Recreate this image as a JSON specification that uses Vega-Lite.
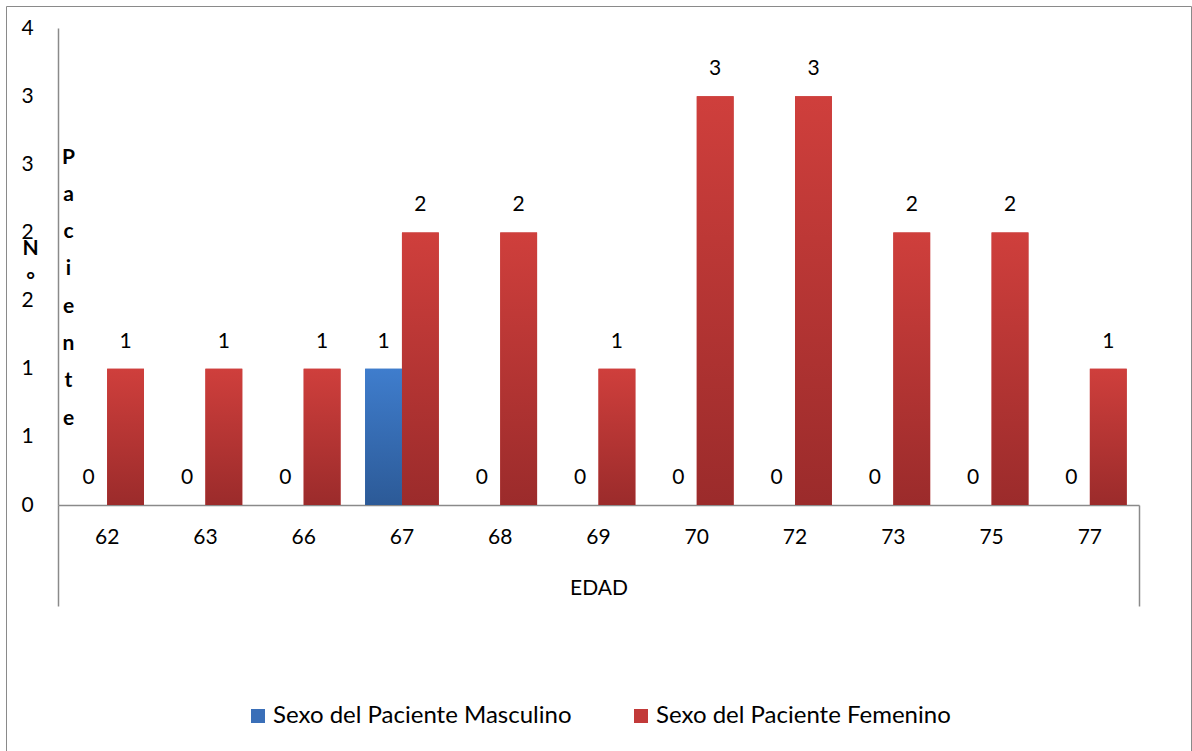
{
  "$schema": "https://vega.github.io/schema/vega-lite/v6.json",
  "autosize": {"type": "none"},
  "padding": {"left": 6, "top": 6, "right": 1, "bottom": 0},
  "width": 1185,
  "height": 745,
  "background": "#ffffff",
  "config": {
    "font": "Lato",
    "view": {"stroke": "#8a8a8a", "strokeWidth": 1},
    "axis": {
      "domainColor": "#8a8a8a",
      "domainWidth": 1.5,
      "grid": false,
      "ticks": false,
      "tickSize": 0,
      "labelFont": "Lato",
      "labelFontSize": 21,
      "labelColor": "#000000",
      "titleFont": "Lato",
      "titleFontSize": 21,
      "titleColor": "#000000",
      "labelOverlap": false
    },
    "legend": {
      "orient": "none",
      "legendX": 240,
      "legendY": 698,
      "direction": "horizontal",
      "padding": 0,
      "symbolType": "square",
      "symbolSize": 196,
      "symbolStrokeWidth": 0,
      "labelFont": "Lato",
      "labelFontSize": 24,
      "labelColor": "#000000",
      "labelLimit": 0,
      "labelOffset": 3,
      "columnPadding": 57
    }
  },
  "data": {
    "values": [
      {"edad": 62, "sexo": "Sexo del Paciente Masculino", "pacientes": 0},
      {"edad": 62, "sexo": "Sexo del Paciente Femenino", "pacientes": 1},
      {"edad": 63, "sexo": "Sexo del Paciente Masculino", "pacientes": 0},
      {"edad": 63, "sexo": "Sexo del Paciente Femenino", "pacientes": 1},
      {"edad": 66, "sexo": "Sexo del Paciente Masculino", "pacientes": 0},
      {"edad": 66, "sexo": "Sexo del Paciente Femenino", "pacientes": 1},
      {"edad": 67, "sexo": "Sexo del Paciente Masculino", "pacientes": 1},
      {"edad": 67, "sexo": "Sexo del Paciente Femenino", "pacientes": 2},
      {"edad": 68, "sexo": "Sexo del Paciente Masculino", "pacientes": 0},
      {"edad": 68, "sexo": "Sexo del Paciente Femenino", "pacientes": 2},
      {"edad": 69, "sexo": "Sexo del Paciente Masculino", "pacientes": 0},
      {"edad": 69, "sexo": "Sexo del Paciente Femenino", "pacientes": 1},
      {"edad": 70, "sexo": "Sexo del Paciente Masculino", "pacientes": 0},
      {"edad": 70, "sexo": "Sexo del Paciente Femenino", "pacientes": 3},
      {"edad": 72, "sexo": "Sexo del Paciente Masculino", "pacientes": 0},
      {"edad": 72, "sexo": "Sexo del Paciente Femenino", "pacientes": 3},
      {"edad": 73, "sexo": "Sexo del Paciente Masculino", "pacientes": 0},
      {"edad": 73, "sexo": "Sexo del Paciente Femenino", "pacientes": 2},
      {"edad": 75, "sexo": "Sexo del Paciente Masculino", "pacientes": 0},
      {"edad": 75, "sexo": "Sexo del Paciente Femenino", "pacientes": 2},
      {"edad": 77, "sexo": "Sexo del Paciente Masculino", "pacientes": 0},
      {"edad": 77, "sexo": "Sexo del Paciente Femenino", "pacientes": 1}
    ]
  },
  "encoding": {
    "x": {
      "field": "edad",
      "type": "ordinal",
      "scale": {"range": [52, 1133], "paddingInner": 0.25, "paddingOuter": 0.125},
      "axis": {
        "orient": "bottom",
        "offset": -246,
        "labelAngle": 0,
        "labelBaseline": "middle",
        "labelPadding": 32,
        "title": "EDAD",
        "titleFontWeight": "normal",
        "titleY": 83,
        "titleBaseline": "middle"
      }
    }
  },
  "layer": [
    {
      "encoding": {
        "xOffset": {
          "field": "sexo",
          "type": "nominal",
          "scale": {
            "domain": ["Sexo del Paciente Masculino", "Sexo del Paciente Femenino"],
            "paddingInner": 0,
            "paddingOuter": 0
          }
        },
        "y": {
          "field": "pacientes",
          "type": "quantitative",
          "scale": {"domain": [0, 3.5], "range": [499, 22], "nice": false},
          "axis": {
            "orient": "left",
            "offset": -52,
            "values": [0, 0.5, 1, 1.5, 2, 2.5, 3, 3.5],
            "format": ".0f",
            "labelAlign": "center",
            "labelBaseline": "middle",
            "labelPadding": 31,
            "title": ["N", "°"],
            "titleAngle": 0,
            "titleAlign": "center",
            "titleBaseline": "middle",
            "titleX": -28,
            "titleY": 242,
            "titleLineHeight": 32,
            "titleFontWeight": "bold"
          }
        }
      },
      "layer": [
        {
          "mark": {"type": "bar"},
          "encoding": {
            "color": {
              "field": "sexo",
              "type": "nominal",
              "title": null,
              "scale": {
                "domain": ["Sexo del Paciente Masculino", "Sexo del Paciente Femenino"],
                "range": ["#3a6fb8", "#c23a39"]
              }
            }
          }
        },
        {
          "mark": {"type": "bar"},
          "encoding": {
            "color": {
              "condition": {
                "test": "datum.sexo === 'Sexo del Paciente Masculino'",
                "value": {
                  "gradient": "linear", "x1": 0, "y1": 0, "x2": 0, "y2": 1,
                  "stops": [{"offset": 0, "color": "#3f7dcd"}, {"offset": 1, "color": "#2c5a97"}]
                }
              },
              "value": {
                "gradient": "linear", "x1": 0, "y1": 0, "x2": 0, "y2": 1,
                "stops": [{"offset": 0, "color": "#cf3f3c"}, {"offset": 1, "color": "#9b2b2b"}]
              }
            }
          }
        },
        {
          "mark": {"type": "text", "dy": -27, "baseline": "middle", "fontSize": 21, "font": "Lato", "color": "#000000"},
          "encoding": {
            "text": {"field": "pacientes", "type": "quantitative"}
          }
        }
      ]
    },
    {
      "mark": {"type": "rule", "opacity": 0},
      "encoding": {
        "y": {
          "datum": 0,
          "type": "quantitative",
          "scale": {"domain": [0, 1], "range": [499, 600]},
          "axis": {
            "orient": "left",
            "offset": -52,
            "labels": false,
            "values": [],
            "title": ["P", "a", "c", "i", "e", "n", "t", "e"],
            "titleAngle": 0,
            "titleAlign": "center",
            "titleBaseline": "middle",
            "titleX": 10,
            "titleY": 151,
            "titleLineHeight": 37.3,
            "titleFontWeight": "bold"
          }
        }
      }
    },
    {
      "mark": {"type": "rule", "opacity": 0},
      "encoding": {
        "y": {
          "datum": 0,
          "type": "quantitative",
          "scale": {"domain": [0, 1], "range": [499, 600]},
          "axis": {
            "orient": "right",
            "offset": -52,
            "labels": false,
            "values": [],
            "title": null
          }
        }
      }
    }
  ],
  "resolve": {"scale": {"y": "independent"}, "axis": {"y": "independent"}}
}
